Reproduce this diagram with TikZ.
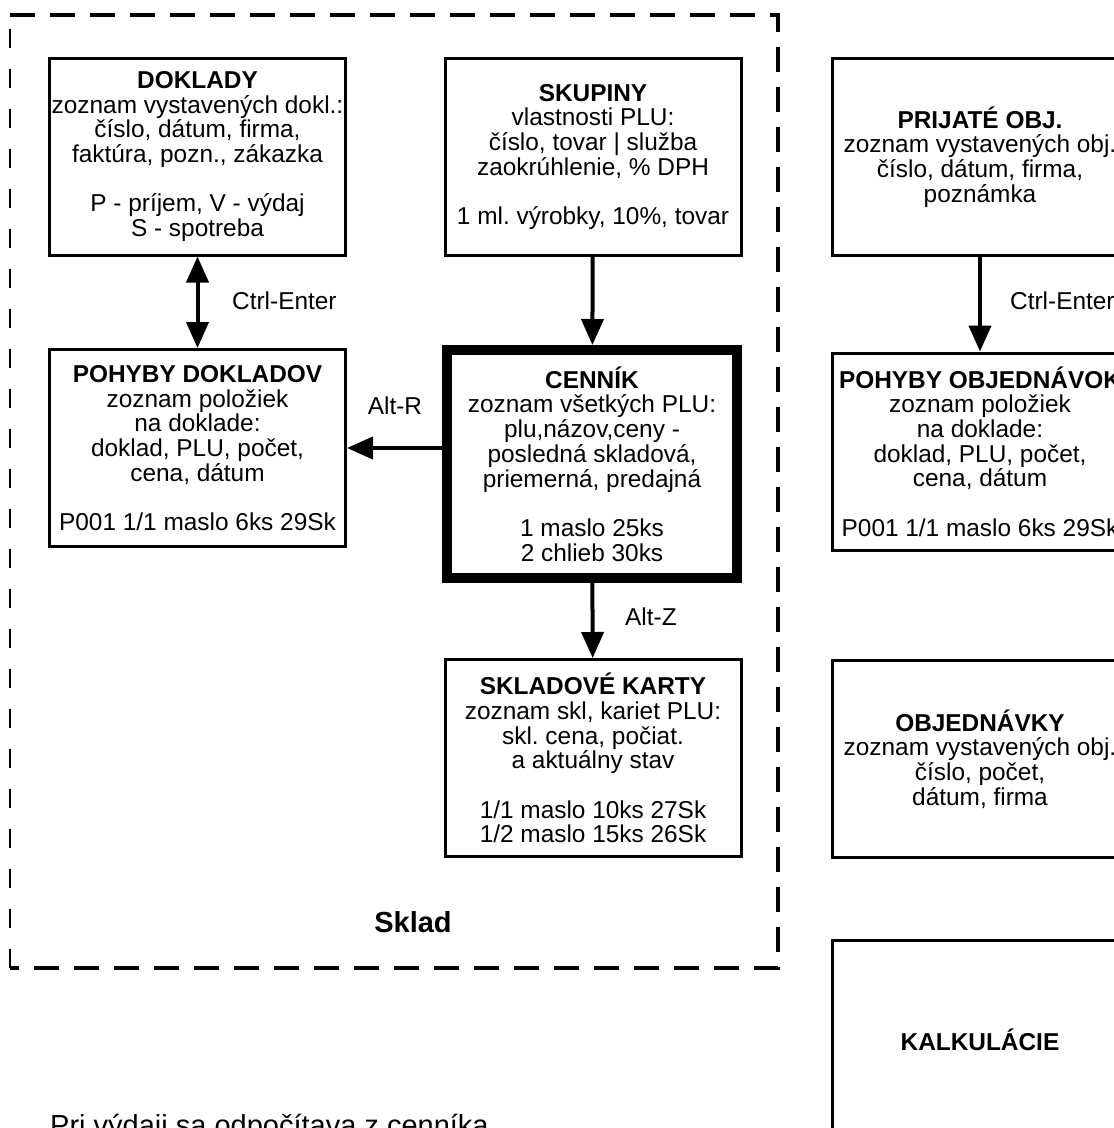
\documentclass[tikz,border=0pt]{standalone}
\usepackage{fontspec}
\setmainfont{Liberation Sans}
\usetikzlibrary{arrows.meta}

\def\boxwd{296pt}
\def\boxht{197pt}

\begin{document}
\begin{tikzpicture}[x=1pt,y=-1pt,>={Triangle[length=26pt,width=22pt]},
    font=\fontsize{24.4}{24.7}\selectfont\frenchspacing]
    \tikzstyle{box}=[draw,line width=3pt,align=center,minimum width=\boxwd,minimum height=\boxht,inner sep=1pt]
    \tikzstyle{main box}=[box,line width=10pt,minimum width=290pt,minimum height=228pt]
    \tikzstyle{link}=[line width=4pt,->]
    \tikzstyle{key}=[inner sep=0pt]
    \tikzstyle{frame}=[line width=4pt,dash pattern=on 25pt off 15pt]

    \useasboundingbox (0,0) rectangle (1114,1128);
    \clip (0,0) rectangle (1114,1128);

    % The Sklad frame
    \draw[frame] (10,15) -- (778,15) -- (778,968) -- (10,968);
    \draw[frame,line width=2pt,dash pattern=on 19pt off 21pt] (10,968) -- (10,15);
    \node[key,font=\fontsize{29}{30}\selectfont\bfseries] (sklad) at (413,922) {Sklad};

    % Boxes inside Sklad
    \node[box] (dok) at (197.5,156.5) {\textbf{DOKLADY}\\zoznam vystavených dokl.:\\číslo, dátum, firma,\\faktúra, pozn., zákazka\\[24.7pt]P - príjem, V - výdaj\\S - spotreba};
    \node[box] (sku) at (593,157) {\textbf{SKUPINY}\\vlastnosti PLU:\\číslo, tovar | služba\\zaokrúhlenie, \% DPH\\[24.7pt]1 ml. výrobky, 10\%, tovar};
    \node[box] (pohd) at (197.5,448) {\textbf{POHYBY DOKLADOV}\\zoznam položiek\\na doklade:\\doklad, PLU, počet,\\cena, dátum\\[24.7pt]P001 1/1 maslo 6ks 29Sk};
    \node[main box] (cen) at (592,464) {\textbf{CENNÍK}\\zoznam všetkých PLU:\\plu,názov,ceny -\\posledná skladová,\\priemerná, predajná\\[24.7pt]1 maslo 25ks\\2 chlieb 30ks};
    \node[box] (skk) at (593,758) {\textbf{SKLADOVÉ KARTY}\\zoznam skl, kariet PLU:\\skl. cena, počiat.\\a aktuálny stav\\[24.7pt]1/1 maslo 10ks 27Sk\\1/2 maslo 15ks 26Sk};

    % Boxes on the right
    \node[box] (prij) at (980,157) {\textbf{PRIJATÉ OBJ.}\\zoznam vystavených obj.\\číslo, dátum, firma,\\poznámka};
    \node[box] (poho) at (980,451.5) {\textbf{POHYBY OBJEDNÁVOK}\\zoznam položiek\\na doklade:\\doklad, PLU, počet,\\cena, dátum\\[24.7pt]P001 1/1 maslo 6ks 29Sk};
    \node[box] (obj) at (980,759) {\textbf{OBJEDNÁVKY}\\zoznam vystavených obj.\\číslo, počet,\\dátum, firma};
    \node[box,minimum height=200pt] (kalk) at (980,1040) {\textbf{KALKULÁCIE}};

    % Connections
    \draw[link,<->] (dok) -- (pohd);
    \draw[link] (sku) -- (cen);
    \draw[link] (pohd.east -| cen.west) -- (pohd.east);
    \draw[link] (cen) -- (skk);
    \draw[link] (prij) -- (poho);

    % Key labels
    \node[key,anchor=west] (ce1) at (232,301) {Ctrl-Enter};
    \node[key] (altr) at (395,406) {Alt-R};
    \node[key,anchor=west] (altz) at (625,617) {Alt-Z};
    \node[key,anchor=west] (ce2) at (1010,301) {Ctrl-Enter};

    \node[key,anchor=base west,font=\fontsize{29}{30}\selectfont] (note) at (50,1135) {Pri výdaji sa odpočítava z cenníka};
\end{tikzpicture}
\end{document}
